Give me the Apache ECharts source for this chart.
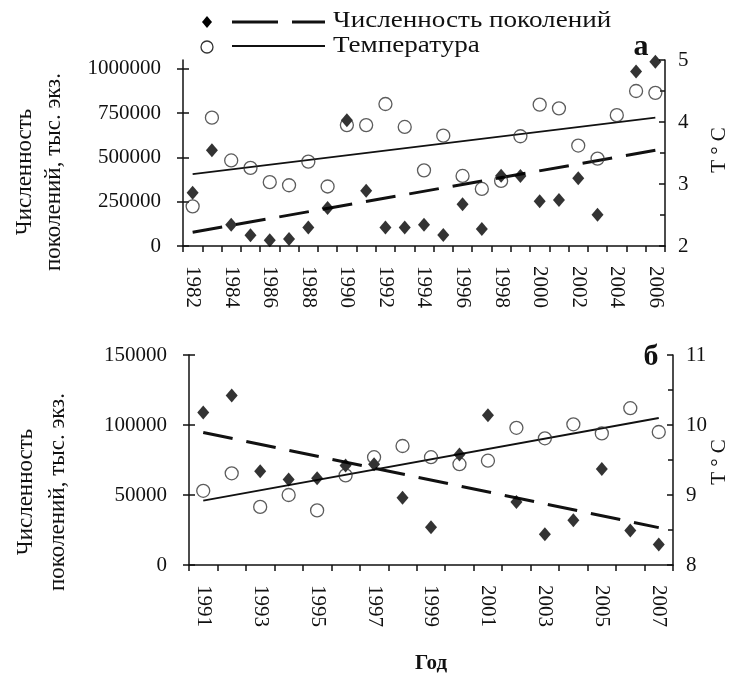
<!DOCTYPE html>
<html>
<head>
<meta charset="utf-8">
<script src="https://cdn.jsdelivr.net/npm/echarts@6/dist/echarts.min.js"></script>
<style>
html,body{margin:0;padding:0;background:#fff;}
#chart{width:736px;height:675px;}
</style>
</head>
<body>
<div id="chart"></div>
<script>
// ---- Data ----
var topYears = ['1982','1983','1984','1985','1986','1987','1988','1989','1990','1991','1992','1993','1994','1995','1996','1997','1998','1999','2000','2001','2002','2003','2004','2005','2006'];
var topCount = [300000, 540000, 120000, 60000, 32000, 40000, 105000, 215000, 710000, 312000, 105000, 105000, 120000, 62000, 235000, 96000, 396000, 395000, 253000, 260000, 382000, 177000, null, 985000, 1040000];
var topTemp = [2.64, 4.07, 3.38, 3.26, 3.03, 2.98, 3.36, 2.96, 3.95, 3.95, 4.29, 3.92, 3.22, 3.78, 3.13, 2.92, 3.05, 3.77, 4.28, 4.22, 3.62, 3.41, 4.11, 4.50, 4.47];
var topCountTrend = [78000, 540000];   // at first and last year
var topTempTrend = [3.16, 4.07];

var botYears = ['1991','1992','1993','1994','1995','1996','1997','1998','1999','2000','2001','2002','2003','2004','2005','2006','2007'];
var botCount = [109000, 121000, 67000, 61000, 62000, 71000, 72000, 48000, 27000, 79000, 107000, 45000, 22000, 32000, 68500, 24600, 14700];
var botTemp = [9.06, 9.31, 8.83, 9.00, 8.78, 9.28, 9.54, 9.70, 9.54, 9.44, 9.49, 9.96, 9.81, 10.01, 9.88, 10.24, 9.90];
var botCountTrend = [94700, 26700];
var botTempTrend = [8.92, 10.10];

var topCountTicks = [0, 250000, 500000, 750000, 1000000];
var botCountTicks = [0, 50000, 100000, 150000];

var legendNames = ['Численность поколений', 'Температура'];
var yTitle = 'Численность\nпоколений, тыс. экз.';
var tTitle = 'Т ° С';
var xTitle = 'Год';

// ---- Styling ----
var FONT = 'Liberation Serif';
var INK = '#111';
var lbl = {fontFamily: FONT, fontSize: 21, color: INK};

function catAxis(grid, data, withLabels, inside, name) {
  return {
    type: 'category', gridIndex: grid, data: data, boundaryGap: true,
    axisLine: {show: withLabels, lineStyle: {color: INK, width: 1.5}},
    axisTick: {show: true, inside: inside, length: 6, interval: 0, lineStyle: {color: INK, width: 1.5}},
    axisLabel: withLabels ? Object.assign({interval: 1, rotate: -90, margin: 20}, lbl) : {show: false},
    splitLine: {show: false},
    name: name || '', nameLocation: 'middle', nameGap: 88,
    nameTextStyle: {fontFamily: FONT, fontSize: 21, fontWeight: 'bold', color: INK}
  };
}
function valAxis(grid, pos, min, max, ticks, withLabels, inside, minor) {
  var ax = {
    type: 'value', gridIndex: grid, position: pos, min: min, max: max,
    axisLine: {show: withLabels, lineStyle: {color: INK, width: 1.5}},
    axisTick: {show: true, inside: inside, length: 6, lineStyle: {color: INK, width: 1.5}},
    axisLabel: withLabels ? Object.assign({margin: pos === 'left' ? 22 : 13, formatter: function (v) { return String(v); }}, lbl) : {show: false},
    splitLine: {show: false}
  };
  if (ticks) {
    ax.axisTick.customValues = ticks;
    ax.axisLabel.customValues = ticks;
  }
  if (minor) {
    ax.minorTick = {show: true, splitNumber: 2, length: 5, lineStyle: {color: INK, width: 1.5}};
    ax.interval = 1;
  }
  return ax;
}
function trend(xi, yi, years, vals, dashed) {
  return {
    type: 'line', xAxisIndex: xi, yAxisIndex: yi, symbol: 'none', silent: true,
    data: [[years[0], vals[0]], [years[years.length - 1], vals[1]]],
    lineStyle: dashed ? {color: INK, width: 3, type: [30, 14]} : {color: INK, width: 1.8},
    z: 1
  };
}
function diamonds(xi, yi, data) {
  return {type: 'scatter', xAxisIndex: xi, yAxisIndex: yi, data: data, symbol: 'diamond',
    symbolSize: [12, 14], itemStyle: {color: '#000'}, z: 3, clip: false};
}
function circles(xi, yi, data) {
  return {type: 'scatter', xAxisIndex: xi, yAxisIndex: yi, data: data, symbol: 'circle',
    symbolSize: 13, itemStyle: {color: 'rgba(0,0,0,0)', borderColor: '#333', borderWidth: 1.3}, z: 4, clip: false};
}

var chart = echarts.init(document.getElementById('chart'), null, {renderer: 'canvas'});
var option = {
  backgroundColor: '#fff',
  animation: false,
  grid: [
    {left: 183, right: 71, top: 60, height: 186},
    {left: 189, right: 63, top: 355, height: 221}
  ],
  xAxis: [
    catAxis(0, topYears, true, false),
    catAxis(0, topYears, false, true),
    catAxis(1, botYears, true, false, xTitle),
    catAxis(1, botYears, false, true)
  ],
  yAxis: [
    valAxis(0, 'left', 0, 1050000, topCountTicks, true, false),
    valAxis(0, 'right', 2, 5, null, true, true, true),
    valAxis(0, 'left', 0, 1050000, topCountTicks, false, true),
    valAxis(1, 'left', 0, 150000, botCountTicks, true, false),
    valAxis(1, 'right', 8, 11, null, true, true, true),
    valAxis(1, 'left', 0, 150000, botCountTicks, false, true)
  ],
  series: [
    trend(0, 0, topYears, topCountTrend, true),
    trend(0, 1, topYears, topTempTrend, false),
    diamonds(0, 0, topCount),
    circles(0, 1, topTemp),
    trend(2, 3, botYears, botCountTrend, true),
    trend(2, 4, botYears, botTempTrend, false),
    diamonds(2, 3, botCount),
    circles(2, 4, botTemp)
  ],
  graphic: [
    // legend
    {type: 'polygon', shape: {points: [[207, 16], [212, 22], [207, 28], [202, 22]]}, style: {fill: '#000'}},
    {type: 'line', shape: {x1: 232, y1: 22, x2: 325, y2: 22}, style: {stroke: INK, lineWidth: 3, lineDash: [46, 14]}},
    {type: 'text', x: 333, y: 21, scaleX: 1.13, style: {text: legendNames[0], fontFamily: FONT, fontSize: 24, fill: INK, textVerticalAlign: 'middle'}},
    {type: 'circle', shape: {cx: 207, cy: 47, r: 6}, style: {fill: 'none', stroke: '#333', lineWidth: 1.3}},
    {type: 'line', shape: {x1: 232, y1: 46, x2: 325, y2: 46}, style: {stroke: INK, lineWidth: 2}},
    {type: 'text', x: 333, y: 46, scaleX: 1.13, style: {text: legendNames[1], fontFamily: FONT, fontSize: 24, fill: INK, textVerticalAlign: 'middle'}},
    // panel letters
    {type: 'text', x: 641, y: 47, style: {text: 'а', fontFamily: FONT, fontSize: 30, fontWeight: 'bold', fill: INK, textAlign: 'center', textVerticalAlign: 'middle'}},
    {type: 'text', x: 651, y: 357, style: {text: 'б', fontFamily: FONT, fontSize: 30, fontWeight: 'bold', fill: INK, textAlign: 'center', textVerticalAlign: 'middle'}},
    // y titles
    {type: 'text', x: 39, y: 172, rotation: Math.PI / 2, style: {text: yTitle, fontFamily: FONT, fontSize: 23, lineHeight: 29, fill: INK, textAlign: 'center', textVerticalAlign: 'middle'}},
    {type: 'text', x: 42, y: 492, rotation: Math.PI / 2, style: {text: yTitle, fontFamily: FONT, fontSize: 23, lineHeight: 32, fill: INK, textAlign: 'center', textVerticalAlign: 'middle'}},
    {type: 'text', x: 719, y: 150, rotation: Math.PI / 2, style: {text: tTitle, fontFamily: FONT, fontSize: 21, fill: INK, textAlign: 'center', textVerticalAlign: 'middle'}},
    {type: 'text', x: 719, y: 462, rotation: Math.PI / 2, style: {text: tTitle, fontFamily: FONT, fontSize: 21, fill: INK, textAlign: 'center', textVerticalAlign: 'middle'}}
  ]
};
chart.setOption(option);
</script>
</body>
</html>
